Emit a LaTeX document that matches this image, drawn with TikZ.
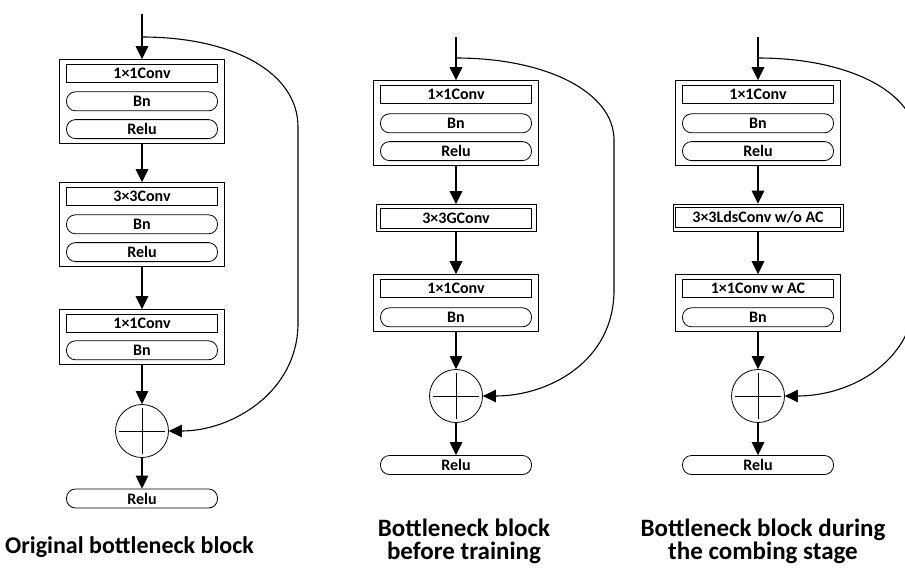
\documentclass[tikz,border=0pt]{standalone}
\usepackage{fontspec}
\setmainfont{Carlito}
\usetikzlibrary{positioning, arrows.meta, calc, fit}

\begin{document}
\begin{tikzpicture}[x=1pt, y=-1pt,
  every node/.style={font=\fontsize{16}{18}\selectfont\bfseries},
  convbox/.style={draw, line width=0.8pt, minimum width=151pt, minimum height=18pt, inner sep=0.5pt},
  normbox/.style={draw, line width=0.8pt, rounded corners=9pt, minimum width=151pt, minimum height=19pt, inner sep=0.5pt},
  outerbox/.style={draw, line width=0.8pt, inner xsep=6.5pt, inner ysep=4pt},
  wrapbox/.style={draw, line width=0.8pt, inner xsep=4pt, inner ysep=3pt},
  flow/.style={-{Triangle[length=13pt,width=12.5pt]}, line width=1.4pt},
  skip/.style={-{Triangle[length=13pt,width=12.5pt]}, line width=1.1pt},
  addop/.style={draw, circle, line width=0.8pt, minimum size=53pt, inner sep=0pt},
  caption/.style={font=\fontsize{25}{23}\selectfont\bfseries, align=center}]
  \path[use as bounding box, clip] (0,0) rectangle (905,568);

  % Original bottleneck block
  \coordinate (in1) at (142,14);
  \coordinate (br1) at (142,37);
  \node[convbox] (c1a) at (142,73) {1×1Conv};
  \node[normbox, below=9pt of c1a] (b1a) {Bn};
  \node[normbox, below=8pt of b1a] (r1a) {Relu};
  \node[outerbox, fit=(c1a)(r1a)] (k1a) {};
  \node[convbox] (c1b) at (142,196) {3×3Conv};
  \node[normbox, below=9pt of c1b] (b1b) {Bn};
  \node[normbox, below=8pt of b1b] (r1b) {Relu};
  \node[outerbox, fit=(c1b)(r1b)] (k1b) {};
  \node[convbox] (c1c) at (142,323) {1×1Conv};
  \node[normbox, below=8pt of c1c] (b1c) {Bn};
  \node[outerbox, fit=(c1c)(b1c)] (k1c) {};
  \node[addop] (add1) at (142,431) {};
  \node[normbox] (out1) at (142,498.5) {Relu};
  \draw[flow] (in1) -- (k1a);
  \draw[flow] (k1a) -- (k1b);
  \draw[flow] (k1b) -- (k1c);
  \draw[flow] (k1c) -- (add1);
  \draw[flow] (add1) -- (out1);
  \draw[skip] (br1) .. controls (232,37) and (298,72) .. (298,127) -- (298,323)
    .. controls (298,392) and (232,431) .. (add1.east);
  \node[caption, font=\fontsize{24}{26}\selectfont\bfseries] (cap1) at (129.5,547) {Original bottleneck block};

  % Bottleneck block before training
  \coordinate (in2) at (456,37);
  \coordinate (br2) at (456,58);
  \node[convbox] (c2a) at (456,94) {1×1Conv};
  \node[normbox, below=10pt of c2a] (b2a) {Bn};
  \node[normbox, below=8pt of b2a] (r2a) {Relu};
  \node[outerbox, fit=(c2a)(r2a)] (k2a) {};
  \node[convbox, minimum height=20pt] (c2b) at (456,218) {3×3GConv};
  \node[wrapbox, fit=(c2b)] (k2b) {};
  \node[convbox] (c2c) at (456,288) {1×1Conv};
  \node[normbox, below=10pt of c2c] (b2c) {Bn};
  \node[outerbox, fit=(c2c)(b2c)] (k2c) {};
  \node[addop] (add2) at (456,396) {};
  \node[normbox] (out2) at (456,465) {Relu};
  \draw[flow] (in2) -- (k2a);
  \draw[flow] (k2a) -- (k2b);
  \draw[flow] (k2b) -- (k2c);
  \draw[flow] (k2c) -- (add2);
  \draw[flow] (add2) -- (out2);
  \draw[skip] (br2) .. controls (546,58) and (614,92) .. (614,140) -- (614,290)
    .. controls (614,362) and (548,396) .. (add2.east);
  \node[caption] (cap2) at (464,541.5) {Bottleneck block\\before training};

  % Bottleneck block during the combing stage
  \coordinate (in3) at (758,37);
  \coordinate (br3) at (758,58);
  \node[convbox] (c3a) at (758,94) {1×1Conv};
  \node[normbox, below=10pt of c3a] (b3a) {Bn};
  \node[normbox, below=8pt of b3a] (r3a) {Relu};
  \node[outerbox, fit=(c3a)(r3a)] (k3a) {};
  \node[convbox, minimum width=165pt, minimum height=20pt] (c3b) at (758,217.5) {3×3LdsConv w/o AC};
  \node[wrapbox, inner xsep=2pt, fit=(c3b)] (k3b) {};
  \node[convbox] (c3c) at (758,288) {1×1Conv w AC};
  \node[normbox, below=10pt of c3c] (b3c) {Bn};
  \node[outerbox, fit=(c3c)(b3c)] (k3c) {};
  \node[addop] (add3) at (758,396) {};
  \node[normbox] (out3) at (758,465) {Relu};
  \draw[flow] (in3) -- (k3a);
  \draw[flow] (k3a) -- (k3b);
  \draw[flow] (k3b) -- (k3c);
  \draw[flow] (k3c) -- (add3);
  \draw[flow] (add3) -- (out3);
  \draw[skip] (br3) .. controls (848,58) and (916,92) .. (916,140) -- (916,290)
    .. controls (916,362) and (850,396) .. (add3.east);
  \node[caption] (cap3) at (763,541.5) {Bottleneck block during\\the combing stage};

  % Plus signs
  \foreach \n in {add1,add2,add3}
    \draw[line width=0.8pt] ($(\n.west)+(4pt,0pt)$) -- ($(\n.east)+(-4pt,0pt)$)
      ($(\n.north)+(0pt,-4pt)$) -- ($(\n.south)+(0pt,4pt)$);
\end{tikzpicture}
\end{document}
